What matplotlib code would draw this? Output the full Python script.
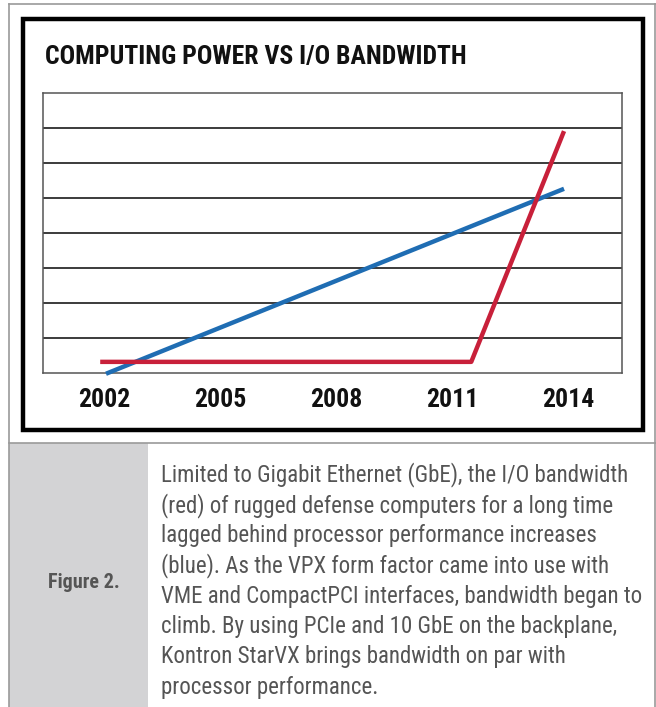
import matplotlib.pyplot as plt
from matplotlib.patches import Rectangle
from matplotlib.lines import Line2D

# chart data
years = [2002, 2005, 2008, 2011, 2014]
cpu_x = [2002.05, 2013.9]
cpu_y = [-0.03, 5.26]
io_x = [2001.9, 2011.5, 2013.9]
io_y = [0.31, 0.31, 6.91]
grid_levels = [1, 2, 3, 4, 5, 6, 7]

title = "COMPUTING POWER VS I/O BANDWIDTH"
fig_label = "Figure 2."
caption = [
    "Limited to Gigabit Ethernet (GbE), the I/O bandwidth",
    "(red) of rugged defense computers for a long time",
    "lagged behind processor performance increases",
    "(blue). As the VPX form factor came into use with",
    "VME and CompactPCI interfaces, bandwidth began to",
    "climb. By using PCIe and 10 GbE on the backplane,",
    "Kontron StarVX brings bandwidth on par with",
    "processor performance.",
]

W, H = 656, 707
plt.rcParams['font.family'] = ['Roboto Condensed', 'DejaVu Sans']

fig = plt.figure(figsize=(W / 100, H / 100), dpi=100)

def fx(px):
    return px / W

def fy(py):
    return 1 - py / H

tf = fig.transFigure
gray = '#9a9a9a'

# caption panel and outer frame
fig.add_artist(Rectangle((fx(9), 0), fx(148) - fx(9), fy(443),
                         transform=tf, facecolor='#d3d3d5', edgecolor='none'))
for xs, ys in [([9, 9], [4, 707]), ([9, 656], [4, 4]), ([655, 655], [4, 707]),
               ([9, 656], [443, 443])]:
    fig.add_artist(Line2D([fx(x) for x in xs], [fy(y) for y in ys], transform=tf,
                          color=gray, lw=1.2))

# black chart box
fig.add_artist(Rectangle((fx(23), fy(430)), fx(643) - fx(23), fy(19) - fy(430),
                         transform=tf, facecolor='none', edgecolor='black', lw=3.2))

fig.text(fx(45), fy(57), title, fontsize=18.5, fontweight='bold', va='center',
         ha='left', color='#111111')

ax = fig.add_axes([fx(43), fy(372.7), fx(622) - fx(43), fy(93) - fy(372.7)])
ax.set_xlim(2000.42, 2015.4)
ax.set_ylim(0, 8)
for lv in grid_levels:
    ax.axhline(lv, color='#1a1a1a', lw=1.2, zorder=1)
ax.plot(cpu_x, cpu_y, color='#1f6db3', lw=3.2, solid_capstyle='butt', clip_on=False, zorder=3)
ax.plot(io_x, io_y, color='#c8203a', lw=3.2, solid_capstyle='butt', zorder=4)
ax.set_yticks([])
ax.set_xticks(years)
ax.set_xticklabels([str(y) for y in years], fontsize=18.5, fontweight='bold', color='#111111')
ax.tick_params(axis='x', length=0, pad=11)
for s in ax.spines.values():
    s.set_color('#555555')
    s.set_linewidth(1.1)

# caption
fig.text(fx(84), fy(582), fig_label, fontsize=14.5, fontweight='bold', color='#555555',
         ha='center', va='center')
for i, line in enumerate(caption):
    fig.text(fx(161), fy(475 + i * 30.3), line, fontsize=16.5, color='#555555',
             ha='left', va='center')

fig.savefig('out.png', dpi=100)
